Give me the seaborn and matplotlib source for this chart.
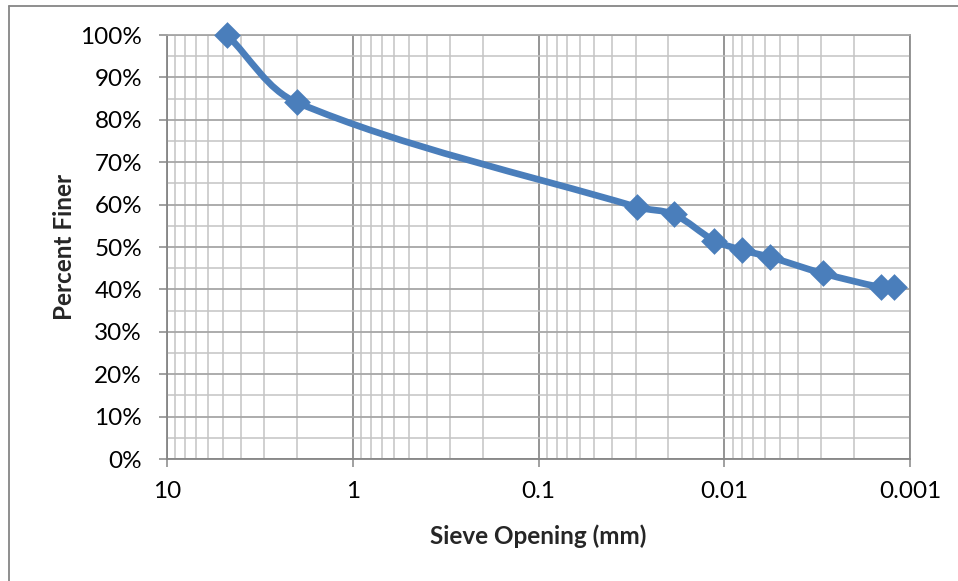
import numpy as np
import matplotlib
matplotlib.use("Agg")
import matplotlib.pyplot as plt
import seaborn as sns
import pandas as pd
from matplotlib.path import Path
from matplotlib.patches import PathPatch
from matplotlib.ticker import FixedLocator, PercentFormatter, NullFormatter
from matplotlib.lines import Line2D

# ---- data ----
sieve_mm = [4.75, 2.0, 0.0294, 0.0187, 0.0113, 0.00805, 0.00565, 0.00295, 0.00143, 0.00122]
percent_finer = [100.0, 84.1, 59.4, 57.7, 51.5, 49.3, 47.6, 43.8, 40.5, 40.5]
x_ticks = [10, 1, 0.1, 0.01, 0.001]
x_tick_labels = ["10", "1", "0.1", "0.01", "0.001"]
y_ticks = [0, 10, 20, 30, 40, 50, 60, 70, 80, 90, 100]

df = pd.DataFrame({"Sieve Opening (mm)": sieve_mm, "Percent Finer": percent_finer})

sns.set_theme(style="white")
plt.rcParams["font.family"] = ["Lato", "DejaVu Sans"]

W, H = 958, 581
fig = plt.figure(figsize=(W / 100, H / 100), dpi=100)
ax = fig.add_axes([167 / W, 1 - 459 / H, (910 - 167) / W, (459 - 35) / H])

BLUE = "#4A7EBB"
MAJ_V = "#8C8C8C"
MAJ_H = "#A6A6A6"
MIN_C = "#C4C4C4"
AXIS_C = "#868686"

ax.set_xscale("log")
ax.set_xlim(10, 0.001)
ax.set_ylim(0, 100)

# gridlines
ax.xaxis.set_major_locator(FixedLocator(x_ticks))
minor_x = [m * 10.0 ** e for e in range(-3, 1) for m in range(2, 10)]
ax.xaxis.set_minor_locator(FixedLocator(minor_x))
ax.xaxis.set_minor_formatter(NullFormatter())
ax.set_xticklabels(x_tick_labels)
ax.yaxis.set_major_locator(FixedLocator(y_ticks))
ax.yaxis.set_minor_locator(FixedLocator([v + 5 for v in y_ticks[:-1]]))
ax.yaxis.set_major_formatter(PercentFormatter(100, decimals=0))

ax.grid(which="major", axis="x", color=MAJ_V, linewidth=1.3)
ax.grid(which="major", axis="y", color=MAJ_H, linewidth=1.3)
ax.grid(which="minor", axis="both", color=MIN_C, linewidth=1.1)
ax.set_axisbelow(True)

for side in ["left", "bottom"]:
    ax.spines[side].set_color(AXIS_C)
    ax.spines[side].set_linewidth(1.3)
ax.spines["top"].set_color(MAJ_H)
ax.spines["top"].set_linewidth(1.3)
ax.spines["right"].set_color(MAJ_V)
ax.spines["right"].set_linewidth(1.3)

ax.tick_params(axis="both", which="major", length=6, width=1.1, color=AXIS_C,
               labelsize=17.5, labelcolor="black", direction="out")
ax.tick_params(axis="x", which="major", pad=10, bottom=True)
ax.tick_params(axis="y", which="major", pad=12, left=True)
ax.tick_params(which="minor", length=0)

# markers through seaborn
sns.scatterplot(data=df, x="Sieve Opening (mm)", y="Percent Finer", marker="D",
                s=185, color=BLUE, edgecolor=BLUE, linewidth=0, ax=ax, zorder=4,
                clip_on=False)

# smoothed connecting line (Excel-style Bezier smoothing, computed in display space)
pts = ax.transData.transform(np.column_stack([sieve_mm, percent_finer]))
n = len(pts)
def tangent(i):
    a = pts[max(i - 1, 0)]
    b = pts[min(i + 1, n - 1)]
    d = b - a
    return d / np.hypot(*d)
verts = [pts[0]]
codes = [Path.MOVETO]
for i in range(n - 1):
    L = np.hypot(*(pts[i + 1] - pts[i]))
    c1 = pts[i] + tangent(i) * L / 3
    c2 = pts[i + 1] - tangent(i + 1) * L / 3
    verts += [c1, c2, pts[i + 1]]
    codes += [Path.CURVE4] * 3
verts_data = ax.transData.inverted().transform(np.array(verts))
patch = PathPatch(Path(verts_data, codes), facecolor="none", edgecolor=BLUE,
                  linewidth=4.8, transform=ax.transData, zorder=3, capstyle="round",
                  joinstyle="round", clip_on=False)
ax.add_patch(patch)

ax.set_xlabel("Sieve Opening (mm)", fontsize=17.5, fontweight="bold", labelpad=16)
ax.set_ylabel("Percent Finer", fontsize=17.5, fontweight="bold", labelpad=3)

# chart area border (left and top visible)
fig.add_artist(Line2D([9 / W, 9 / W], [0, 1 - 6 / H], transform=fig.transFigure,
                      color=AXIS_C, linewidth=1.3))
fig.add_artist(Line2D([9 / W, 1], [1 - 6 / H, 1 - 6 / H], transform=fig.transFigure,
                      color=AXIS_C, linewidth=1.3))

fig.savefig("out.png", dpi=100, facecolor="white")
